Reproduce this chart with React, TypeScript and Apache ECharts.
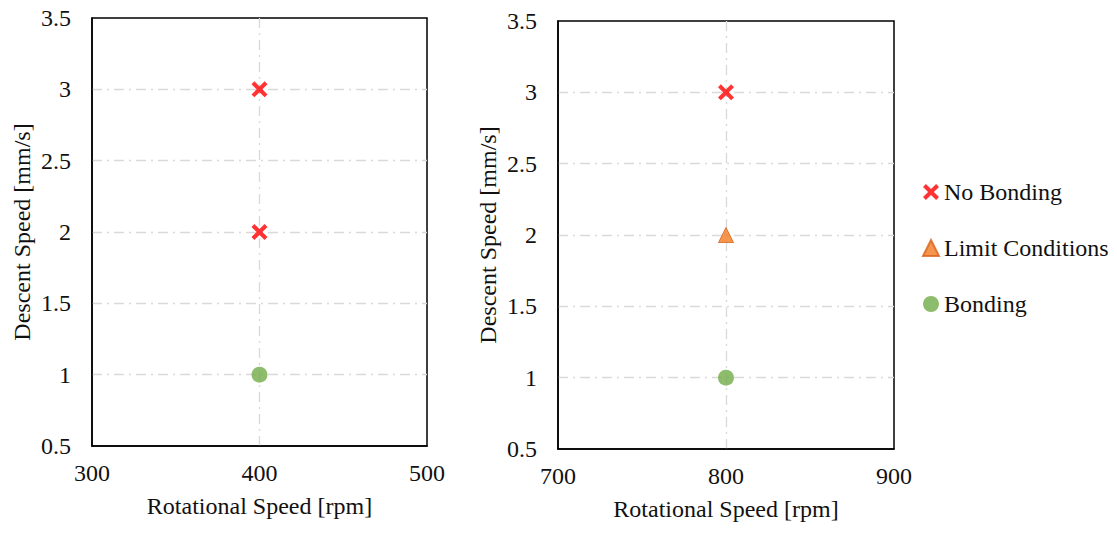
import React, { useEffect, useRef } from "react";
import * as echarts from "echarts";

const leftNoBonding: [number, number][] = [[400, 3], [400, 2]];
const leftBonding: [number, number][] = [[400, 1]];
const rightNoBonding: [number, number][] = [[800, 3]];
const rightLimit: [number, number][] = [[800, 2]];
const rightBonding: [number, number][] = [[800, 1]];
const legendNames = ["No Bonding", "Limit Conditions", "Bonding"];

const CROSS = "path://M1.8,0 L5,3.2 L8.2,0 L10,1.8 L6.8,5 L10,8.2 L8.2,10 L5,6.8 L1.8,10 L0,8.2 L3.2,5 L0,1.8 Z";
const FONT = "Liberation Serif";
const TXT = "#111111";
const FS = 24;

function xAxisFor(idx: number, min: number, max: number) {
  return {
    type: "value",
    gridIndex: idx,
    min,
    max,
    interval: 100,
    name: "Rotational Speed [rpm]",
    nameLocation: "middle",
    nameGap: 48,
    nameTextStyle: { fontFamily: FONT, fontSize: FS, color: TXT },
    axisLine: { show: true, lineStyle: { color: "#000", width: 1.5 } },
    axisTick: { show: false },
    axisLabel: { fontFamily: FONT, fontSize: FS, color: TXT, margin: 15 },
    splitLine: { show: true, showMinLine: false, showMaxLine: false, lineStyle: { color: "#d9d9d9", width: 1.3, type: [10, 5, 2, 5] } },
  };
}

function yAxisFor(idx: number) {
  return {
    type: "value",
    gridIndex: idx,
    min: 0.5,
    max: 3.5,
    interval: 0.5,
    name: "Descent Speed [mm/s]",
    nameLocation: "middle",
    nameGap: 58,
    nameTextStyle: { fontFamily: FONT, fontSize: FS, color: TXT },
    axisLine: { show: true, lineStyle: { color: "#000", width: 1.5 } },
    axisTick: { show: false },
    axisLabel: { fontFamily: FONT, fontSize: FS, color: TXT, margin: 21 },
    splitLine: { show: true, showMinLine: false, showMaxLine: false, lineStyle: { color: "#d9d9d9", width: 1.3, type: [10, 5, 2, 5] } },
  };
}

const crossStyle = { color: "#ff0000" };
const triStyle = { color: "#f47b20", borderColor: "#d8641a", borderWidth: 1 };
const circStyle = { color: "#70ad47" };

export default function App() {
  const ref = useRef<HTMLDivElement>(null);
  useEffect(() => {
    if (!ref.current) return;
    const chart = echarts.init(ref.current, null, { renderer: "svg" });
    chart.setOption({
      animation: false,
      backgroundColor: "#fff",
      grid: [
        { left: 92, top: 18, width: 335, height: 428, show: true, borderColor: "#000", borderWidth: 1.5, containLabel: false },
        { left: 558, top: 21, width: 336, height: 428, show: true, borderColor: "#000", borderWidth: 1.5, containLabel: false },
      ],
      xAxis: [xAxisFor(0, 300, 500), xAxisFor(1, 700, 900)],
      yAxis: [yAxisFor(0), yAxisFor(1)],
      legend: {
        orient: "vertical",
        left: 917,
        top: 175,
        itemGap: 32,
        itemWidth: 16,
        itemHeight: 16,
        data: legendNames,
        textStyle: { fontFamily: FONT, fontSize: FS, color: TXT, padding: [0, 0, 0, 0] },
      },
      series: [
        { name: legendNames[0], type: "scatter", xAxisIndex: 0, yAxisIndex: 0, symbol: CROSS, symbolSize: 16, itemStyle: crossStyle, data: leftNoBonding },
        { name: legendNames[0], type: "scatter", xAxisIndex: 1, yAxisIndex: 1, symbol: CROSS, symbolSize: 16, itemStyle: crossStyle, data: rightNoBonding },
        { name: legendNames[1], type: "scatter", xAxisIndex: 1, yAxisIndex: 1, symbol: "triangle", symbolSize: 15, itemStyle: triStyle, data: rightLimit },
        { name: legendNames[2], type: "scatter", xAxisIndex: 0, yAxisIndex: 0, symbol: "circle", symbolSize: 16, itemStyle: circStyle, data: leftBonding },
        { name: legendNames[2], type: "scatter", xAxisIndex: 1, yAxisIndex: 1, symbol: "circle", symbolSize: 16, itemStyle: circStyle, data: rightBonding },
      ],
    });
    return () => chart.dispose();
  }, []);
  return <div ref={ref} style={{ position: "fixed", left: 0, top: 0, width: 1117, height: 548 }} />;
}
